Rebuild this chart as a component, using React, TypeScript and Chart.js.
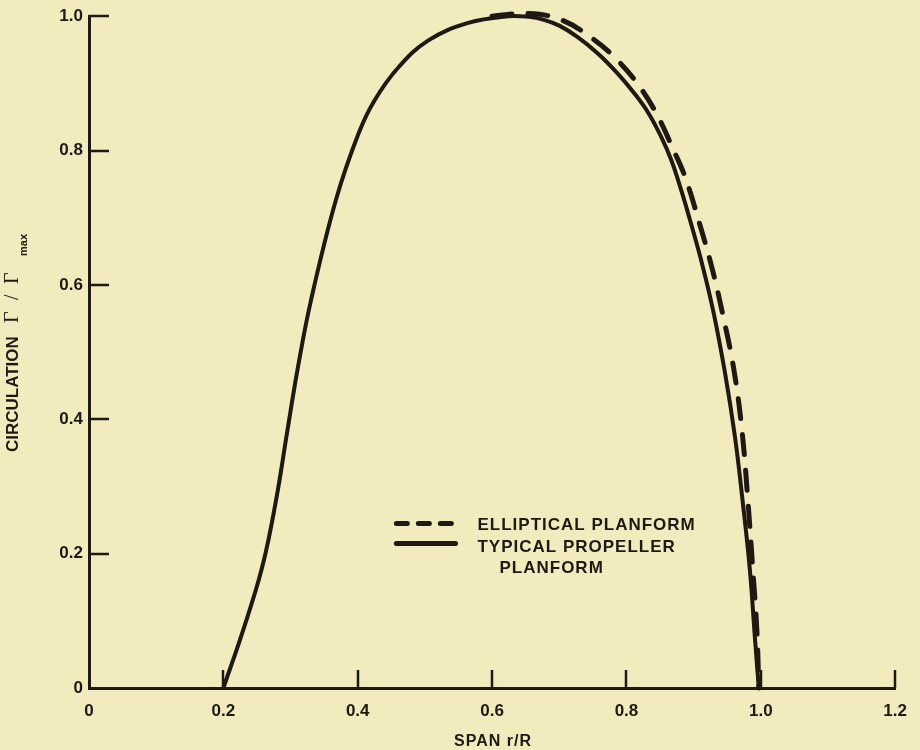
import React, { useEffect, useRef } from "react";
import { Chart, registerables } from "chart.js";

Chart.register(...registerables);

// ---- data ----
const xTickValues = [0, 0.2, 0.4, 0.6, 0.8, 1.0, 1.2];
const yTickValues = [0, 0.2, 0.4, 0.6, 0.8, 1.0];

const propellerX = [0.2, 0.2281, 0.2578, 0.2785, 0.2948, 0.3111, 0.3304, 0.3674, 0.4015, 0.4252, 0.4607, 0.5052, 0.5644, 0.6237, 0.655, 0.676, 0.70, 0.7274, 0.757, 0.7867, 0.8119, 0.8326, 0.8519, 0.8667, 0.8815, 0.8933, 0.9111, 0.9289, 0.9467, 0.9615, 0.9733, 0.9837, 0.9911, 0.997];
const propellerY = [0, 0.082, 0.18, 0.28, 0.38, 0.478, 0.577, 0.726, 0.826, 0.875, 0.924, 0.964, 0.99, 1.0, 0.999, 0.995, 0.986, 0.969, 0.945, 0.915, 0.885, 0.856, 0.82, 0.786, 0.741, 0.701, 0.637, 0.5625, 0.469, 0.374, 0.275, 0.176, 0.076, 0];

const ellipticalX = [0.60, 0.653, 0.7007, 0.7467, 0.7881, 0.8222, 0.8474, 0.8681, 0.8874, 0.9081, 0.9274, 0.9452, 0.96, 0.9719, 0.9807, 0.9881, 0.9941, 0.997];
const ellipticalY = [1.0, 1.004, 0.9955, 0.9688, 0.933, 0.8914, 0.8497, 0.8051, 0.7604, 0.6935, 0.625, 0.5476, 0.4732, 0.3839, 0.2798, 0.1756, 0.0863, 0];

const legendLabels = ["ELLIPTICAL PLANFORM", "TYPICAL PROPELLER", "PLANFORM"];
const xTitle = "SPAN r/R";
const yTitleMain = "CIRCULATION";
const yTitleGamma = "Γ";
const yTitleSlash = "/";
const yTitleSub = "max";

const BG = "#f2ebbe";
const INK = "#1f1813";
const FONT = "'Liberation Sans', Arial, Helvetica, sans-serif";
const SERIF = "'Liberation Serif', 'DejaVu Serif', serif";

export default function App() {
  const ref = useRef<HTMLCanvasElement | null>(null);

  useEffect(() => {
    document.body.style.margin = "0";
    document.body.style.background = BG;
    const canvas = ref.current;
    if (!canvas) return;

    const bgPlugin = {
      id: "bg",
      beforeDraw(chart: any) {
        const c = chart.ctx;
        c.save();
        c.fillStyle = BG;
        c.fillRect(0, 0, chart.width, chart.height);
        c.restore();
      },
    };

    const decoPlugin = {
      id: "deco",
      afterDraw(chart: any) {
        const c = chart.ctx;
        const xs = chart.scales.x;
        const ys = chart.scales.y;
        const area = chart.chartArea;
        c.save();
        // inward tick marks
        c.strokeStyle = INK;
        c.lineWidth = 2.5;
        c.lineCap = "butt";
        yTickValues.forEach((v) => {
          if (v === 0) return;
          const py = Math.round(ys.getPixelForValue(v));
          c.beginPath();
          c.moveTo(area.left, py);
          c.lineTo(area.left + 20, py);
          c.stroke();
        });
        xTickValues.forEach((v) => {
          if (v === 0) return;
          const px = Math.round(xs.getPixelForValue(v));
          c.beginPath();
          c.moveTo(px, area.bottom);
          c.lineTo(px, area.bottom - 18);
          c.stroke();
        });

        // legend
        const lx0 = xs.getPixelForValue(0.453);
        const lx1 = xs.getPixelForValue(0.547);
        const ly = ys.getPixelForValue(0.245);
        c.lineCap = "round";
        c.lineWidth = 5;
        c.setLineDash([11, 11]);
        c.beginPath();
        c.moveTo(lx0 + 3, ly);
        c.lineTo(lx1 - 1, ly);
        c.stroke();
        c.setLineDash([]);
        c.beginPath();
        c.moveTo(lx0 + 3, ly + 20);
        c.lineTo(lx1 - 1, ly + 20);
        c.stroke();

        c.fillStyle = INK;
        c.font = `bold 17px ${FONT}`;
        (c as any).letterSpacing = "1px";
        c.textAlign = "left";
        c.textBaseline = "alphabetic";
        c.fillText(legendLabels[0], lx1 + 21, ly + 7);
        c.fillText(legendLabels[1], lx1 + 21, ly + 29);
        c.fillText(legendLabels[2], lx1 + 43, ly + 50);

        // x title
        c.font = `bold 16px ${FONT}`;
        c.textAlign = "center";
        c.fillText(xTitle, (area.left + area.right) / 2 + 1, 746);
        (c as any).letterSpacing = "0px";

        // y title (rotated); u = -screenY, v = screenX - 18
        c.translate(18, 0);
        c.rotate(-Math.PI / 2);
        c.textAlign = "left";
        c.font = `bold 17px ${FONT}`;
        c.fillText(yTitleMain, -452, 0);
        c.font = `20px ${SERIF}`;
        c.fillText(yTitleGamma, -323, 0);
        c.fillText(yTitleSlash, -300, 0);
        c.fillText(yTitleGamma, -284, 0);
        c.font = `bold 11px ${FONT}`;
        c.fillText(yTitleSub, -256, 9);
        c.restore();
      },
    };

    const fmt = (v: any) => (Number(v) === 0 ? "0" : Number(v).toFixed(1));

    const chart = new Chart(canvas, {
      type: "line",
      data: {
        datasets: [
          {
            label: "TYPICAL PROPELLER PLANFORM",
            data: propellerX.map((x, i) => ({ x, y: propellerY[i] })),
            borderColor: INK,
            borderWidth: 4,
            pointRadius: 0,
            tension: 0.4,
            capBezierPoints: false,
            fill: false,
            clip: false as any,
          },
          {
            label: "ELLIPTICAL PLANFORM",
            data: ellipticalX.map((x, i) => ({ x, y: ellipticalY[i] })),
            borderColor: INK,
            borderWidth: 5,
            borderDash: [20, 16],
            borderCapStyle: "round",
            pointRadius: 0,
            tension: 0.4,
            capBezierPoints: false,
            fill: false,
            clip: false as any,
          },
        ],
      },
      options: {
        responsive: false,
        animation: false,
        devicePixelRatio: 1,
        layout: { padding: { top: 16, right: 21, left: 0, bottom: 0 } },
        plugins: { legend: { display: false }, tooltip: { enabled: false } },
        elements: { line: { capBezierPoints: false } },
        scales: {
          x: {
            type: "linear",
            min: 0,
            max: 1.2,
            afterBuildTicks: (s: any) => {
              s.ticks = xTickValues.map((value) => ({ value }));
            },
            afterFit: (s: any) => {
              s.height = 62;
            },
            grid: { display: false, drawTicks: false },
            border: { display: true, color: INK, width: 3 },
            ticks: {
              color: INK,
              padding: 13,
              maxRotation: 0,
              font: { family: FONT, size: 17, weight: "bold" },
              callback: fmt,
            },
          },
          y: {
            type: "linear",
            min: 0,
            max: 1.0,
            afterBuildTicks: (s: any) => {
              s.ticks = yTickValues.map((value) => ({ value }));
            },
            afterFit: (s: any) => {
              s.width = 89;
            },
            grid: { display: false, drawTicks: false },
            border: { display: true, color: INK, width: 3 },
            ticks: {
              color: INK,
              padding: 6,
              font: { family: FONT, size: 17, weight: "bold" },
              callback: fmt,
            },
          },
        },
      },
      plugins: [bgPlugin, decoPlugin],
    } as any);

    return () => chart.destroy();
  }, []);

  return <canvas ref={ref} width={920} height={750} style={{ display: "block" }} />;
}
